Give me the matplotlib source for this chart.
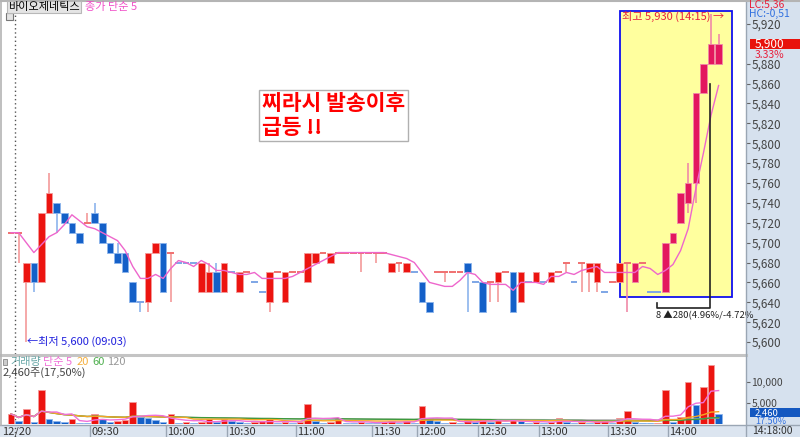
import numpy as np
import pandas as pd
import matplotlib
matplotlib.use('Agg')
import matplotlib.pyplot as plt
from matplotlib.patches import Rectangle
from matplotlib.lines import Line2D
from matplotlib import transforms

plt.rcParams['font.family'] = ['Noto Sans CJK KR', 'DejaVu Sans']

# 3-minute bars, index 0 is the last bar of the previous session
opens = [5710, 5710, 5660, 5680, 5660, 5730, 5740, 5730, 5720, 5710,
         5720, 5730, 5720, 5700, 5690, 5690, 5660, 5640, 5640, 5690,
         5700, 5690, 5680, 5680, 5680, 5650, 5650, 5670, 5650, 5670,
         5650, 5670, 5660, 5650, 5640, 5670, 5640, 5670, 5670, 5660,
         5680, 5690, 5680, 5690, 5690, 5690, 5690, 5690, 5690, 5690,
         5670, 5680, 5670, 5670, 5660, 5640, 5670, 5670, 5670, 5670,
         5680, 5660, 5660, 5660, 5660, 5670, 5670, 5640, 5660, 5660,
         5660, 5660, 5670, 5680, 5660, 5680, 5670, 5660, 5650, 5660,
         5660, 5680, 5660, 5680, 5650, 5650, 5650, 5700, 5720, 5740,
         5760, 5850, 5880, 5880]
highs = [5710, 5710, 5680, 5680, 5730, 5770, 5740, 5730, 5720, 5710,
         5730, 5740, 5720, 5700, 5700, 5690, 5660, 5640, 5690, 5700,
         5700, 5690, 5680, 5680, 5680, 5680, 5680, 5680, 5680, 5670,
         5670, 5670, 5660, 5650, 5670, 5670, 5670, 5670, 5670, 5690,
         5690, 5690, 5690, 5690, 5690, 5690, 5690, 5690, 5690, 5690,
         5680, 5680, 5680, 5670, 5660, 5640, 5670, 5670, 5670, 5670,
         5680, 5660, 5660, 5660, 5670, 5670, 5670, 5670, 5660, 5670,
         5660, 5670, 5670, 5680, 5660, 5680, 5680, 5680, 5650, 5660,
         5680, 5680, 5680, 5680, 5650, 5650, 5700, 5710, 5750, 5780,
         5850, 5880, 5930, 5910]
lows = [5710, 5680, 5600, 5650, 5660, 5730, 5710, 5720, 5710, 5700,
        5720, 5720, 5700, 5690, 5680, 5670, 5640, 5630, 5630, 5690,
        5650, 5640, 5680, 5680, 5680, 5650, 5650, 5650, 5650, 5670,
        5650, 5670, 5660, 5650, 5630, 5670, 5640, 5670, 5670, 5660,
        5680, 5690, 5680, 5690, 5690, 5690, 5670, 5690, 5680, 5690,
        5670, 5670, 5670, 5670, 5640, 5630, 5670, 5660, 5670, 5670,
        5630, 5660, 5630, 5640, 5640, 5670, 5630, 5640, 5660, 5660,
        5660, 5660, 5670, 5670, 5660, 5650, 5650, 5650, 5650, 5660,
        5660, 5630, 5660, 5680, 5650, 5650, 5650, 5700, 5720, 5730,
        5740, 5850, 5880, 5880]
closes = [5710, 5710, 5680, 5660, 5730, 5750, 5730, 5720, 5710, 5700,
          5720, 5720, 5700, 5690, 5680, 5670, 5640, 5640, 5690, 5700,
          5650, 5690, 5680, 5680, 5680, 5680, 5670, 5650, 5680, 5670,
          5670, 5670, 5660, 5650, 5670, 5670, 5670, 5670, 5670, 5690,
          5690, 5690, 5690, 5690, 5690, 5690, 5690, 5690, 5690, 5690,
          5680, 5680, 5680, 5670, 5640, 5630, 5670, 5670, 5670, 5670,
          5670, 5660, 5630, 5660, 5670, 5670, 5630, 5670, 5660, 5670,
          5660, 5670, 5670, 5680, 5660, 5680, 5680, 5680, 5650, 5660,
          5680, 5680, 5680, 5680, 5650, 5650, 5700, 5710, 5750, 5760,
          5850, 5880, 5900, 5900]
volumes = [2400, 700, 3500, 500, 8200, 1300, 800, 500, 1200, 300,
           300, 2500, 1200, 500, 600, 1000, 5300, 1700, 1500, 900,
           400, 2500, 300, 400, 300, 500, 1200, 400, 1100, 800,
           500, 300, 400, 600, 1100, 300, 500, 300, 400, 4800,
           800, 300, 500, 1100, 300, 300, 400, 300, 300, 500,
           800, 300, 600, 300, 4300, 1500, 600, 300, 400, 300,
           1000, 400, 1300, 500, 900, 300, 1000, 600, 300, 500,
           300, 400, 1500, 500, 300, 400, 300, 600, 800, 300,
           1500, 3200, 400, 300, 200, 300, 8000, 500, 1700, 10000,
           4500, 8800, 14060, 2460]

tick_labels = ['09:30', '10:00', '10:30', '11:00', '11:30', '12:00',
               '12:30', '13:00', '13:30', '14:00']
tick_bars = [11, 21, 29, 38, 48, 54, 62, 70, 79, 87]
price_ticks = [p for p in range(5600, 5921, 20) if p != 5900]
vol_ticks = [5000, 10000]
last_price = 5900
last_volume = 2460
low_bar, low_price = 2, 5600
high_bar, high_price = 92, 5930
box_start = 81  # first bar of highlighted run

RED, BLUE, CRIMSON = '#ec1410', '#1460c8', '#e3175e'
W, H = 800, 437


def fr(x0, y0, x1, y1):
    return [x0 / W, 1 - y1 / H, (x1 - x0) / W, (y1 - y0) / H]


fig = plt.figure(figsize=(8, 4.37), dpi=100)
ax_p = fig.add_axes(fr(0, 2, 746, 354))
ax_v = fig.add_axes(fr(0, 356, 746, 424))
ax_t = fig.add_axes(fr(0, 425, 746, 437))

# right price strip and frame lines
fig.add_artist(Rectangle((746 / W, 0), 54 / W, 1, transform=fig.transFigure,
                         facecolor='#d6e1ee', edgecolor='none', zorder=-1))
for xs, ys, c, lw in [((0, 746), (355, 355), '#c4c4c4', 2.2),
                      ((0, 800), (424.7, 424.7), '#9aa6b4', 1),
                      ((746, 746), (0, 437), '#9aa6b4', 1),
                      ((0, 800), (0.8, 0.8), '#b4b4b4', 1.5),
                      ((0.6, 0.6), (0, 425), '#b4b4b4', 1.2)]:
    fig.add_artist(Line2D([x / W for x in xs], [1 - y / H for y in ys],
                          transform=fig.transFigure, color=c, lw=lw))

idx = np.arange(len(closes))
xlim = (-1.45, 96.6)

# direction of each bar (doji keeps previous colour when unchanged)
dirs = []
for i in idx:
    o, c = opens[i], closes[i]
    if c > o:
        d = 1
    elif c < o:
        d = -1
    elif i == 0:
        d = 1
    elif c > closes[i - 1]:
        d = 1
    elif c < closes[i - 1]:
        d = -1
    else:
        d = dirs[-1]
    dirs.append(d)

# --- price panel ---
ax_p.add_patch(Rectangle((80.1, 5645), 14.65, 288, facecolor='#ffff9e',
                         edgecolor='#1010ee', lw=1.3, zorder=0.5))
for i in idx:
    o, h, l, c = opens[i], highs[i], lows[i], closes[i]
    if dirs[i] > 0:
        body = CRIMSON if i >= box_start else RED
        wick = '#f08aa8' if i >= box_start else '#f49a9a'
        doji = '#f07070'
    else:
        body, wick, doji = BLUE, '#8cb4ec', '#7ea6e6'
    if h != l:
        ax_p.vlines(i, l, h, color=wick, lw=1.2, zorder=2)
    if o == c:
        ax_p.hlines(c, i - 0.45, i + 0.45, color=doji, lw=1.4, zorder=3)
    else:
        ax_p.bar(i, abs(c - o), bottom=min(o, c), width=0.86, color=body,
                 edgecolor=wick, linewidth=0.6, zorder=3)

ma5 = pd.Series(closes).rolling(5, min_periods=1).mean()
ax_p.plot(idx, ma5, color='#ee66cc', lw=1, zorder=4)

# measured run bracket
ax_p.plot([84.9, 84.9, 91.85, 91.85], [5639, 5634, 5634, 5860],
          color='#222222', lw=1.2, zorder=5)
ax_p.text(84.8, 5627, '8 ▲280(4.96%/-4.72%', fontsize=6.8, color='#222222',
          va='center', ha='left', clip_on=False, zorder=6)
ax_p.text(80.25, 5927, f'최고 {high_price:,} (14:15) →', fontsize=8,
          color='#e8203c', va='center', ha='left', zorder=6)
ax_p.text(low_bar + 0.1, low_price + 1, f'←최저 {low_price:,} (09:03)',
          fontsize=8, color='#2020dd', va='center', ha='left', zorder=6)

ax_p.axvline(0.5, color='#555555', lw=1, ls=(0, (1, 2)), zorder=1)
ax_p.set_xlim(*xlim)
ax_p.set_ylim(5588, 5942)
ax_p.yaxis.tick_right()
ax_p.set_yticks(price_ticks)
ax_p.set_yticklabels([f'{p:,}' for p in price_ticks])
ax_p.tick_params(axis='y', direction='out', length=3, width=0.8, pad=1,
                 colors='#666666', labelsize=8.5, labelcolor='#444444')
ax_p.set_xticks([])
for s in ax_p.spines.values():
    s.set_visible(False)

bt = transforms.blended_transform_factory(ax_p.transAxes, ax_p.transData)
ax_p.add_patch(Rectangle((1.005, last_price - 5), 0.07, 10, transform=bt,
                         facecolor='#e8120c', edgecolor='none', clip_on=False))
ax_p.text(1.012, last_price, f'{last_price:,}', transform=bt, color='white',
          fontsize=8.5, va='center', ha='left')
ax_p.text(1.012, 5889, f'{(last_price / closes[0] - 1) * 100:.2f}%',
          transform=bt, color='#e8203c', fontsize=7.5, va='center', ha='left')

fig.text(749 / W, 1 - 4.5 / H, 'LC:5,36', color='#e8203c', fontsize=7.5, va='center')
fig.text(749 / W, 1 - 14 / H, 'HC:-0,51', color='#3070e0', fontsize=7.5, va='center')

fig.text(8 / W, 1 - 7 / H, '바이오제네틱스', fontsize=8, va='center', ha='left',
         bbox=dict(boxstyle='square,pad=0.1', fc='#e4e4e4', ec='#b8b8b8', lw=0.8))
fig.text(85 / W, 1 - 7 / H, '종가 단순 5', fontsize=8, color='#f050c8', va='center')
fig.add_artist(Rectangle((6 / W, 1 - 20 / H), 7 / W, 7 / H, transform=fig.transFigure,
                         facecolor='#e4e4e4', edgecolor='#777777', lw=0.8))

fig.text(262 / W, 1 - 93 / H, '찌라시 발송이후\n급등 !!', fontsize=15.5,
         fontweight='bold', color='#ff0000', va='top', ha='left', linespacing=1.15,
         bbox=dict(boxstyle='square,pad=0.15', fc='white', ec='#b0b0b0', lw=1))

# --- volume panel ---
vcol = [RED] + [RED if volumes[i] > volumes[i - 1] else BLUE for i in idx[1:]]
vedge = ['#f49a9a' if c == RED else '#8cb4ec' for c in vcol]
ax_v.bar(idx, volumes, width=0.86, color=vcol, edgecolor=vedge, linewidth=0.6, zorder=2)
vs = pd.Series(volumes)
for n, col in [(120, '#b4b4b4'), (60, '#3c9a3c'), (20, '#f5a623'), (5, '#f070d8')]:
    ax_v.plot(idx, vs.rolling(n, min_periods=1).mean(), color=col, lw=1, zorder=3)
ax_v.axvline(0.5, color='#555555', lw=1, ls=(0, (1, 2)), zorder=1)
ax_v.set_xlim(*xlim)
ax_v.set_ylim(0, 16200)
ax_v.yaxis.tick_right()
ax_v.set_yticks(vol_ticks)
ax_v.set_yticklabels([f'{v:,}' for v in vol_ticks])
ax_v.tick_params(axis='y', direction='out', length=3, width=0.8, pad=1,
                 colors='#666666', labelsize=7.5, labelcolor='#444444')
ax_v.set_xticks([])
for s in ax_v.spines.values():
    s.set_visible(False)

vt = transforms.blended_transform_factory(ax_v.transAxes, ax_v.transData)
ax_v.add_patch(Rectangle((1.005, 1700), 0.07, 2100, transform=vt,
                         facecolor='#1458c0', edgecolor='none', clip_on=False))
ax_v.text(1.012, 2750, f'{last_volume:,}', transform=vt, color='white',
          fontsize=6.8, va='center', ha='left')
ax_v.text(1.012, 650, f'{last_volume / volumes[-2] * 100:.2f}%', transform=vt,
          color='#3070e0', fontsize=6.5, va='center', ha='left')

leg_y = 1 - 362 / H
fig.add_artist(Rectangle((3 / W, 1 - 365 / H), 4 / W, 6 / H, transform=fig.transFigure,
                         facecolor='#cccccc', edgecolor='#888888', lw=0.6))
for x, txt, col in [(10, '거래량', '#6aa8a8'), (43, '단순 5', '#f070d8'),
                    (77, '20', '#f5b040'), (92, '60', '#50b050'), (107, '120', '#999999')]:
    fig.text(x / W, leg_y, txt, color=col, fontsize=8, va='center', ha='left')
fig.text(3 / W, 1 - 373 / H, f'{last_volume:,}주(17,50%)', color='#444444',
         fontsize=8, va='center', ha='left')

# --- time strip ---
ax_t.set_facecolor('#dce5f0')
ax_t.set_xlim(*xlim)
ax_t.set_ylim(0, 1)
ax_t.set_xticks([])
ax_t.set_yticks([])
for s in ax_t.spines.values():
    s.set_visible(False)
ax_t.axvline(0.5, color='#555555', lw=1, ls=(0, (1, 2)))
ax_t.text(-1.2, 0.45, '12/20', fontsize=8, color='#333333', va='center', ha='left')
for b, lab in zip(tick_bars, tick_labels):
    ax_t.axvline(b - 0.6, color='#9aa6b4', lw=1)
    ax_t.text(b - 0.45, 0.45, lab, fontsize=8, color='#333333', va='center', ha='left')
fig.text(752 / W, 1 - 431.5 / H, '14:18:00', fontsize=7.5, color='#333333', va='center')

fig.savefig('out.png', dpi=100, facecolor='white')
